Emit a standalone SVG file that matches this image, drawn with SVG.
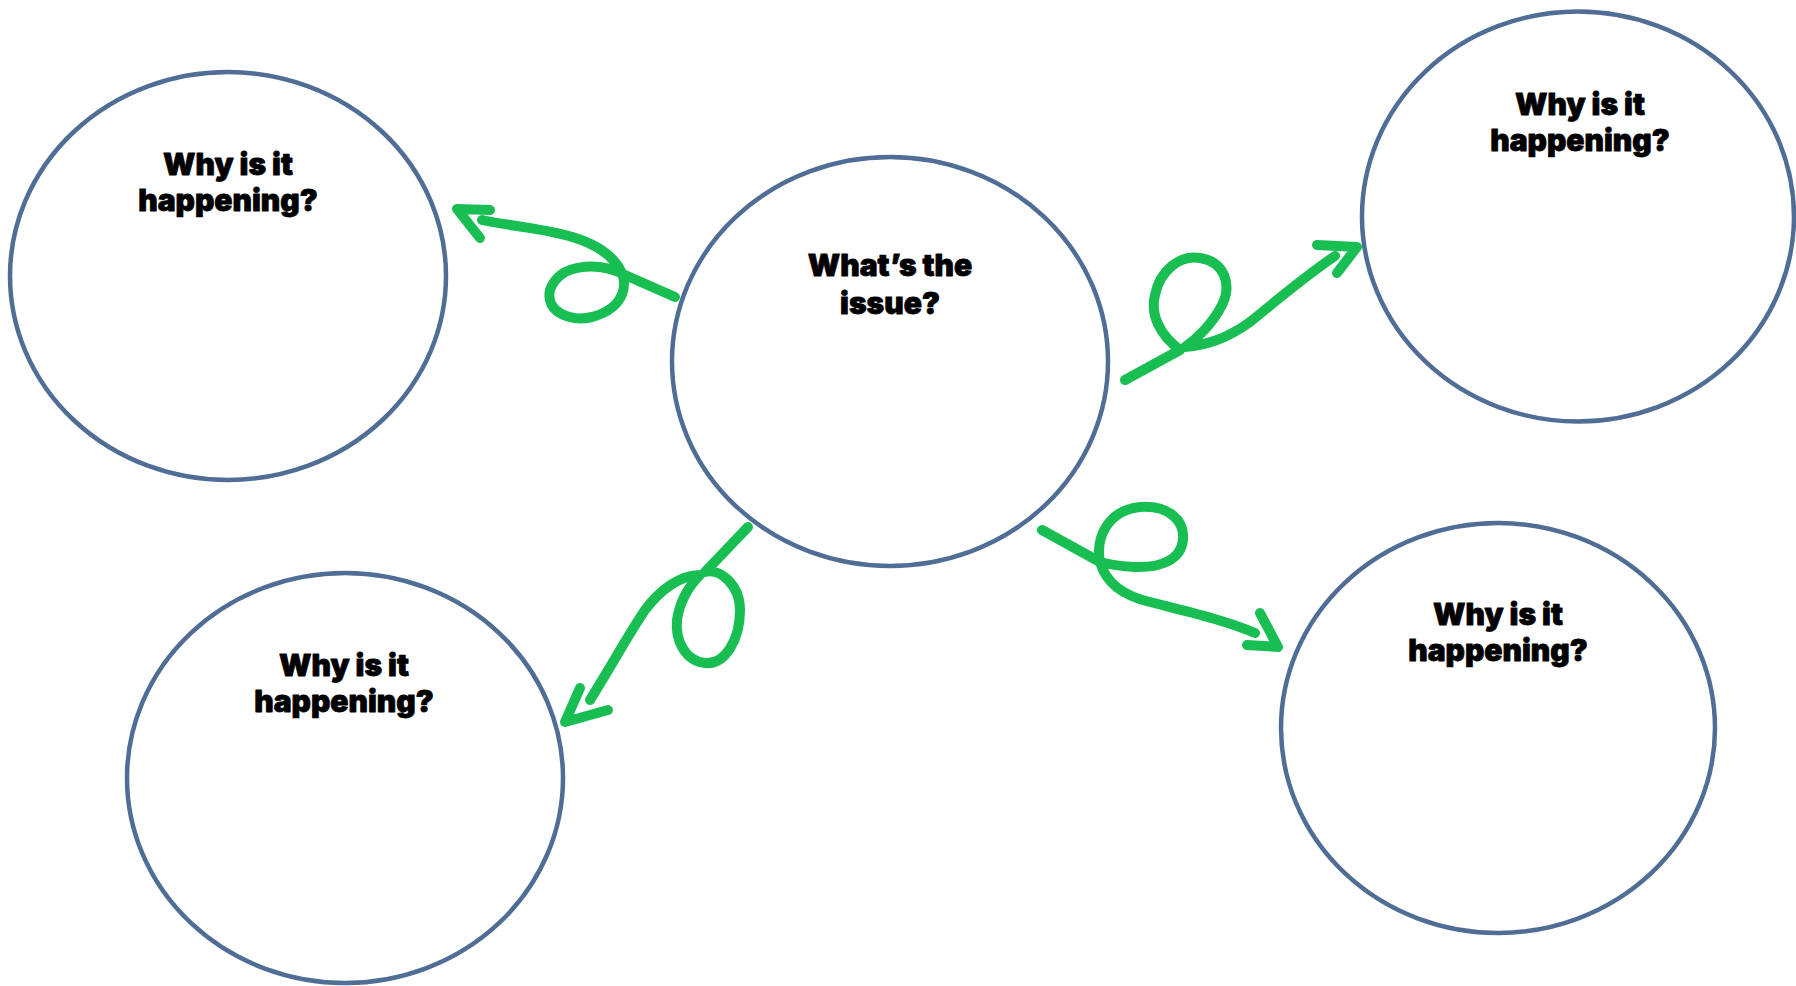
<svg xmlns="http://www.w3.org/2000/svg" width="1796" height="986" viewBox="0 0 1796 986">
<style>
.node{fill:#ffffff;stroke:#4f6d95;stroke-width:4.5}
.lbl{font-family:"Inter","Open Sans","Liberation Sans",sans-serif;font-weight:900;font-size:30px;fill:#000;stroke:#000;stroke-width:0.8;stroke-linejoin:round;text-anchor:middle}
.arr{fill:none;stroke:#19be53;stroke-width:10;stroke-linecap:round;stroke-linejoin:round}
</style>
<rect width="1796" height="986" fill="#ffffff"/>
<g id="connectors">
<path class="arr" d="M675,297 L625,275 C600,262 560,262 550,290 C545,312 570,322 592,317 C625,308 632,282 615,262 C595,238 555,232 523,227 C505,224 490,222 482,220"/>
<path class="arr" d="M490,210 L457,209 L480,238"/>
<path class="arr" d="M1125,380 L1180,350 C1160,335 1150,315 1155,295 C1160,270 1180,255 1200,258 C1225,262 1232,285 1222,305 C1212,325 1195,340 1185,347 C1205,345 1225,340 1250,322 C1275,302 1300,280 1335,256"/>
<path class="arr" d="M1317,245 L1357,247 L1337,273"/>
<path class="arr" d="M748,527 L705,572 C720,568 740,585 740,610 C740,640 725,665 705,663 C685,661 675,640 677,620 C680,600 690,585 700,575 C680,575 660,590 645,610 C628,635 612,665 590,700"/>
<path class="arr" d="M580,688 L565,722 L608,710"/>
<path class="arr" d="M1042,530 L1100,562 C1095,535 1110,510 1140,507 C1168,505 1185,520 1183,540 C1181,560 1160,568 1135,567 C1115,566 1100,562 1100,562 C1105,580 1120,595 1150,602 C1185,611 1225,620 1255,633"/>
<path class="arr" d="M1260,613 L1278,647 L1247,645"/>
</g>
<g id="center">
<ellipse class="node" cx="890" cy="361.5" rx="218" ry="204.5"/>
<text class="lbl" x="890" y="276">What’s the</text>
<text class="lbl" x="890" y="314">issue?</text>
</g>
<g id="top-left">
<ellipse class="node" cx="228" cy="276" rx="218" ry="204"/>
<text class="lbl" x="228" y="175">Why is it</text>
<text class="lbl" x="228" y="211">happening?</text>
</g>
<g id="top-right">
<ellipse class="node" cx="1578" cy="216.5" rx="216" ry="205"/>
<text class="lbl" x="1580" y="115">Why is it</text>
<text class="lbl" x="1580" y="151">happening?</text>
</g>
<g id="bottom-left">
<ellipse class="node" cx="345" cy="778" rx="218" ry="205"/>
<text class="lbl" x="344" y="676">Why is it</text>
<text class="lbl" x="344" y="712">happening?</text>
</g>
<g id="bottom-right">
<ellipse class="node" cx="1498" cy="728" rx="217" ry="205"/>
<text class="lbl" x="1498" y="625">Why is it</text>
<text class="lbl" x="1498" y="661">happening?</text>
</g>
</svg>
